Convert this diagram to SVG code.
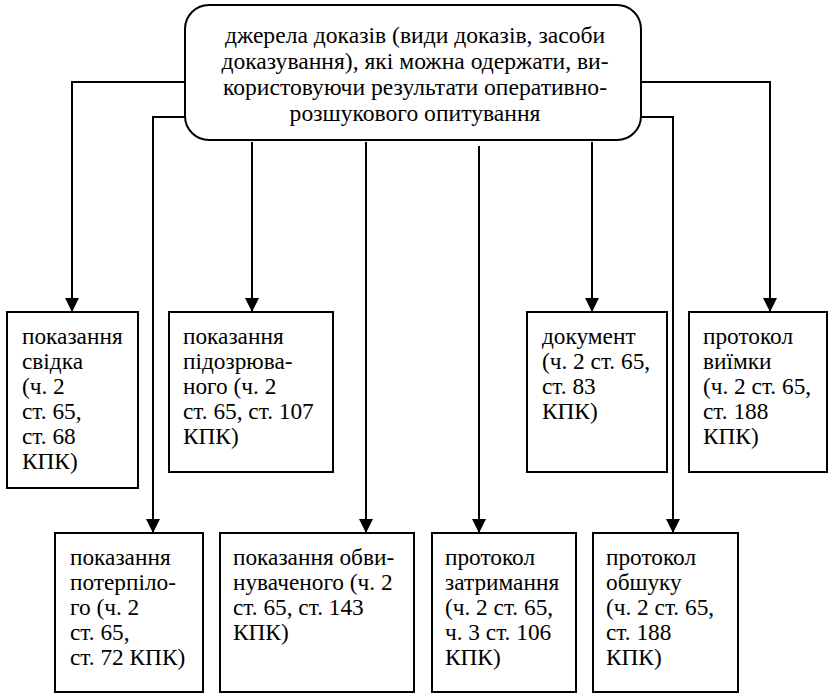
<svg xmlns="http://www.w3.org/2000/svg" width="830" height="695" viewBox="0 0 830 695">
<style>
.box{fill:#fff;stroke:#000;stroke-width:2}
.ln{fill:none;stroke:#000;stroke-width:2}
text{font-family:"Liberation Serif","Times New Roman",serif;font-size:23.3px;fill:#000}
.c{text-anchor:middle;font-size:23.6px}
</style>
<defs>
<marker id="ah" markerUnits="userSpaceOnUse" markerWidth="16" markerHeight="16" viewBox="0 0 16 16" refX="15" refY="8" orient="auto">
<path d="M1,1 L15,8 L1,15 Z" fill="#000"/>
</marker>
</defs>
<rect width="830" height="695" fill="#fff"/>
<g id="connectors">
<path class="ln" d="M185,82 H72 V312" marker-end="url(#ah)"/>
<path class="ln" d="M185,117 H153 V533" marker-end="url(#ah)"/>
<path class="ln" d="M252,142 V312" marker-end="url(#ah)"/>
<path class="ln" d="M366,142 V533" marker-end="url(#ah)"/>
<path class="ln" d="M479,146 V533" marker-end="url(#ah)"/>
<path class="ln" d="M592,142 V312" marker-end="url(#ah)"/>
<path class="ln" d="M641,117 H673 V533" marker-end="url(#ah)"/>
<path class="ln" d="M641,82 H770 V312" marker-end="url(#ah)"/>
</g>
<g id="source">
<rect class="box" x="185" y="5" width="456" height="135" rx="24" ry="24"/>
<text class="c" x="415" y="43">джерела доказів (види доказів, засоби</text>
<text class="c" x="415" y="69">доказування), які можна одержати, ви-</text>
<text class="c" x="415" y="95">користовуючи результати оперативно-</text>
<text class="c" x="415" y="121">розшукового опитування</text>
</g>
<g id="n1">
<rect class="box" x="7" y="312" width="131" height="176"/>
<text x="22" y="344">показання</text>
<text x="22" y="369">свідка</text>
<text x="22" y="394">(ч. 2</text>
<text x="22" y="419">ст. 65,</text>
<text x="22" y="444">ст. 68</text>
<text x="22" y="469">КПК)</text>
</g>
<g id="n2">
<rect class="box" x="169" y="312" width="164" height="160"/>
<text x="183" y="344">показання</text>
<text x="183" y="369">підозрюва-</text>
<text x="183" y="394">ного (ч. 2</text>
<text x="183" y="419">ст. 65, ст. 107</text>
<text x="183" y="444">КПК)</text>
</g>
<g id="n3">
<rect class="box" x="527" y="312" width="140" height="160"/>
<text x="542" y="344">документ</text>
<text x="542" y="369">(ч. 2 ст. 65,</text>
<text x="542" y="394">ст. 83</text>
<text x="542" y="419">КПК)</text>
</g>
<g id="n4">
<rect class="box" x="689" y="312" width="138" height="160"/>
<text x="703" y="344">протокол</text>
<text x="703" y="369">виїмки</text>
<text x="703" y="394">(ч. 2 ст. 65,</text>
<text x="703" y="419">ст. 188</text>
<text x="703" y="444">КПК)</text>
</g>
<g id="n5">
<rect class="box" x="55" y="533" width="148" height="159"/>
<text x="70" y="565">показання</text>
<text x="70" y="590">потерпіло-</text>
<text x="70" y="615">го (ч. 2</text>
<text x="70" y="640">ст. 65,</text>
<text x="70" y="665">ст. 72 КПК)</text>
</g>
<g id="n6">
<rect class="box" x="220" y="533" width="194" height="159"/>
<text x="233" y="565">показання обви-</text>
<text x="233" y="590">нуваченого (ч. 2</text>
<text x="233" y="615">ст. 65, ст. 143</text>
<text x="233" y="640">КПК)</text>
</g>
<g id="n7">
<rect class="box" x="432" y="533" width="144" height="159"/>
<text x="445" y="565">протокол</text>
<text x="445" y="590">затримання</text>
<text x="445" y="615">(ч. 2 ст. 65,</text>
<text x="445" y="640">ч. 3 ст. 106</text>
<text x="445" y="665">КПК)</text>
</g>
<g id="n8">
<rect class="box" x="593" y="533" width="145" height="159"/>
<text x="606" y="565">протокол</text>
<text x="606" y="590">обшуку</text>
<text x="606" y="615">(ч. 2 ст. 65,</text>
<text x="606" y="640">ст. 188</text>
<text x="606" y="665">КПК)</text>
</g>
</svg>
